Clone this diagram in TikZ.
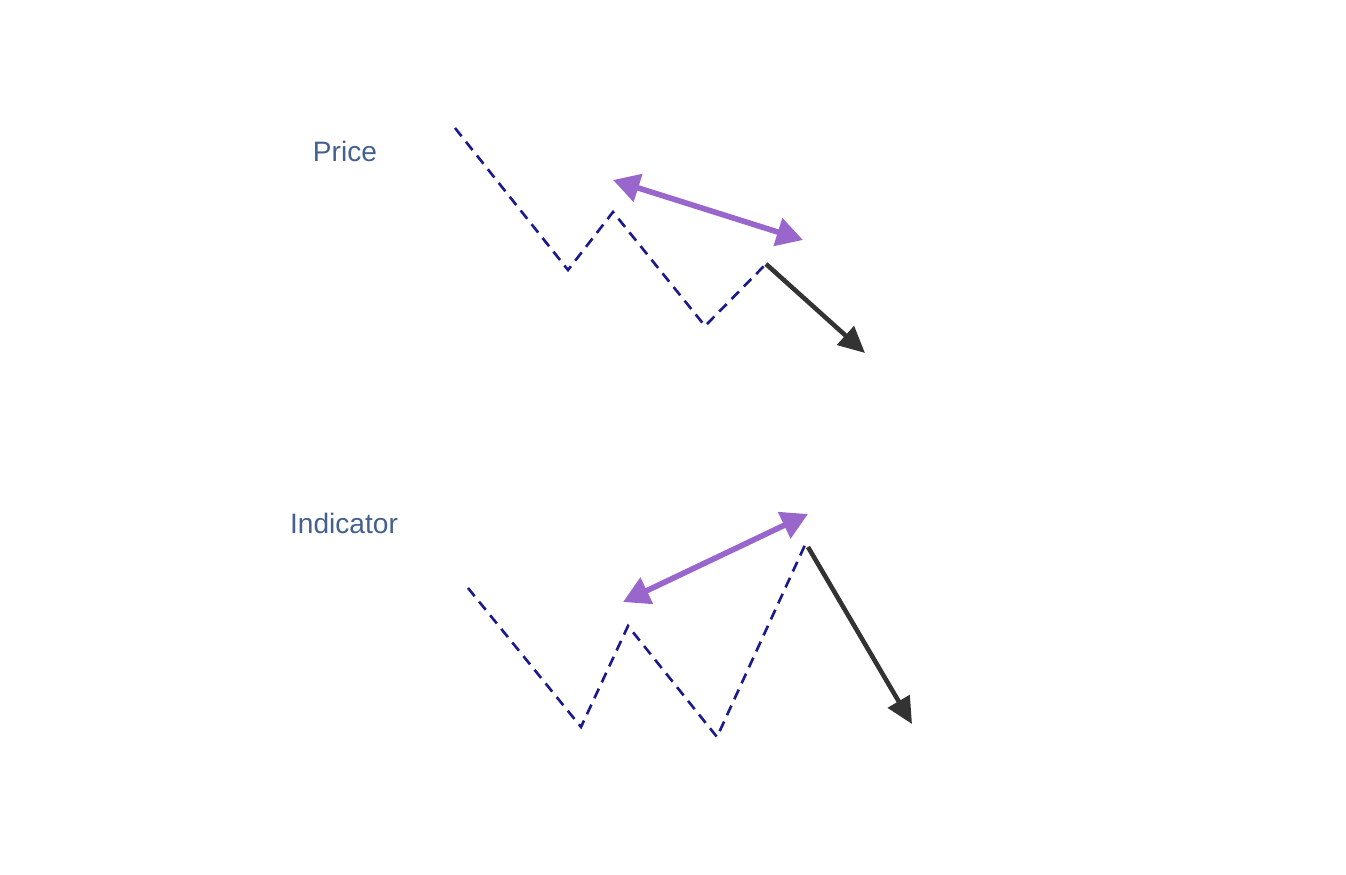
\documentclass[tikz,border=0pt]{standalone}
\usepackage{fontspec}
\setmainfont{Liberation Sans}
\usepackage{xcolor}
\usetikzlibrary{arrows.meta}

\definecolor{wave}{HTML}{1A1A8C}
\definecolor{diverge}{HTML}{9966CC}
\definecolor{trend}{HTML}{333333}
\definecolor{lbltxt}{HTML}{44608F}

\begin{document}
\begin{tikzpicture}[
                x=0.02cm, y=-0.02cm,
                wav/.style  ={draw=wave, line width=1.5pt, dash pattern=on 6pt off 4pt},
                div/.style  ={draw=diverge, line width=3.2pt,
                        {Triangle[length=15pt, width=16pt]}-{Triangle[length=15pt, width=16pt]}},
                brk/.style  ={draw=trend, line width=2.6pt, -{Triangle[length=15pt, width=14pt]}},
                lbl/.style  ={font=\fontsize{16}{18}\selectfont, text=lbltxt}
            ]
            \useasboundingbox (0,0) rectangle (1346,875);

            %% ---- TOP: price makes a lower high -------------------------------
            \node[lbl] (price) at (345,151) {Price};
            \coordinate (p0) at (455,128);
            \coordinate (p1) at (568,270);
            \coordinate (p2) at (613,212);
            \coordinate (p3) at (705,326);
            \coordinate (p4) at (766,264);
            \coordinate (p5) at (865,353);
            \draw[wav] (p0) -- (p1) -- (p2) -- (p3) -- (p4);
            \draw[brk] (p4) -- (p5);
            \coordinate (pa) at (613,180);
            \coordinate (pb) at (803,240);
            \draw[div] (pa) -- (pb);

            %% ---- BOTTOM: indicator makes a higher high -----------------------
            \node[lbl] (ind) at (344,523) {Indicator};
            \coordinate (i0) at (468,588);
            \coordinate (i1) at (581,727);
            \coordinate (i2) at (628,626);
            \coordinate (i3) at (717,737);
            \coordinate (i4) at (805,545);
            \coordinate (i5) at (912,724);
            \draw[wav] (i0) -- (i1) -- (i2) -- (i3) -- (i4);
            \draw[brk] (808,547) -- (i5);
            \coordinate (ia) at (623,602);
            \coordinate (ib) at (808,514);
            \draw[div] (ia) -- (ib);

        \end{tikzpicture}
\end{document}
